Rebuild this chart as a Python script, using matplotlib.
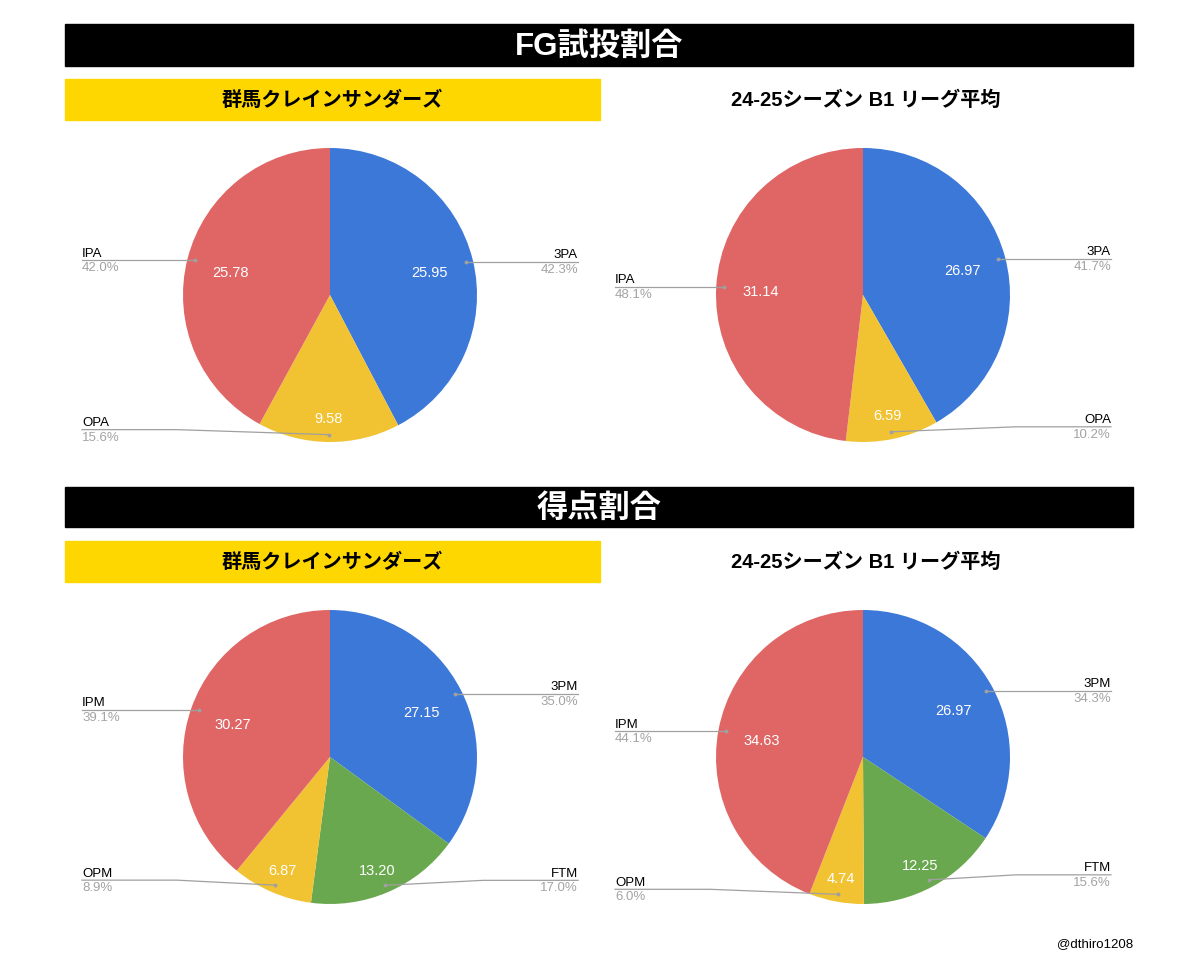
import numpy as np
import matplotlib
matplotlib.use("Agg")
from matplotlib import pyplot as plt
from matplotlib.patches import Rectangle

plt.rcParams["font.family"] = ["Liberation Sans", "Noto Sans CJK JP", "DejaVu Sans"]

# Data
fga_labels = ["3PA", "OPA", "IPA"]
fga_colors = ["#3c78d8", "#f1c232", "#e06666"]
fga_gunma = [25.95, 9.58, 25.78]
fga_league = [26.97, 6.59, 31.14]

pts_labels = ["3PM", "FTM", "OPM", "IPM"]
pts_colors = ["#3c78d8", "#6aa84f", "#f1c232", "#e06666"]
pts_gunma = [27.15, 13.20, 6.87, 30.27]
pts_league = [26.97, 12.25, 4.74, 34.63]

section_titles = ["FG試投割合", "得点割合"]
team_title = "群馬クレインサンダーズ"
league_title = "24-25シーズン B1 リーグ平均"
credit = "@dthiro1208"

W, H = 1200, 954
R = 147
JP = ["Liberation Sans", "Noto Sans CJK JP", "DejaVu Sans"]

fig = plt.figure(figsize=(W / 100, H / 100), dpi=100)
bg = fig.add_axes([0, 0, 1, 1])
bg.set_xlim(0, W)
bg.set_ylim(H, 0)
bg.axis("off")


def banner(y0, y1, title):
    bg.add_patch(Rectangle((65, y0), 1068, y1 - y0, color="black", zorder=1))
    bg.text(599, (y0 + y1) / 2 + 1, title, color="white", fontsize=22.5,
            fontweight="bold", ha="center", va="center", family=JP, zorder=2)


def subtitles(y0, y1):
    bg.add_patch(Rectangle((65, y0), 535, y1 - y0, color="#ffd700", zorder=1))
    bg.text(332, (y0 + y1) / 2, team_title, fontsize=14.5, fontweight="bold",
            ha="center", va="center", family=JP, zorder=2)
    bg.text(866, (y0 + y1) / 2, league_title, fontsize=14.5, fontweight="bold",
            ha="center", va="center", family=JP, zorder=2)


def pie_chart(cx, cy, values, labels, colors):
    ax = fig.add_axes([(cx - 270) / W, (H - cy - 170) / H, 540 / W, 340 / H])
    wedges, _ = ax.pie(values, colors=colors, startangle=90, counterclock=False,
                       radius=R, wedgeprops=dict(linewidth=0), frame=True)
    ax.set_xlim(-270, 270)
    ax.set_ylim(-170, 170)
    ax.axis("off")
    total = sum(values)
    for w, v, lab in zip(wedges, values, labels):
        frac = v / total
        ang = np.deg2rad((w.theta1 + w.theta2) / 2)
        # value inside slice
        d = 0.7 if frac > 0.25 else 0.82
        ax.text(d * R * np.cos(ang), d * R * np.sin(ang) - 2, f"{v:.2f}",
                color="white", fontsize=10.5, ha="center", va="center")
        # leader line and outside label
        axp, ayp = 0.95 * R * np.cos(ang), 0.95 * R * np.sin(ang)
        side = 1 if axp > 0 else -1
        lx = side * 248
        if ayp < -0.6 * R:
            ly = ayp + 5
            xs, ys = [lx, side * (R + 6), axp], [ly, ly, ayp]
        else:
            ly = ayp
            xs, ys = [lx, axp], [ly, ayp]
        ax.plot(xs, ys, color="#a0a0a0", lw=0.9, clip_on=False)
        ax.plot([axp], [ayp], "o", color="#a0a0a0", ms=1.8, clip_on=False)
        ha = "right" if side > 0 else "left"
        ax.text(lx, ly + 1.5, lab, fontsize=9.5, ha=ha, va="bottom", color="black")
        ax.text(lx, ly - 1, f"{frac * 100:.1f}%", fontsize=9.5, ha=ha, va="top",
                color="#a3a3a3")


banner(25, 67, section_titles[0])
subtitles(80, 121)
pie_chart(330, 296, fga_gunma, fga_labels, fga_colors)
pie_chart(863, 296, fga_league, fga_labels, fga_colors)

banner(488, 528, section_titles[1])
subtitles(542, 583)
pie_chart(330, 758, pts_gunma, pts_labels, pts_colors)
pie_chart(863, 758, pts_league, pts_labels, pts_colors)

bg.text(1133, 944, credit, fontsize=9.5, ha="right", va="center")

fig.savefig("out.png", dpi=100)
